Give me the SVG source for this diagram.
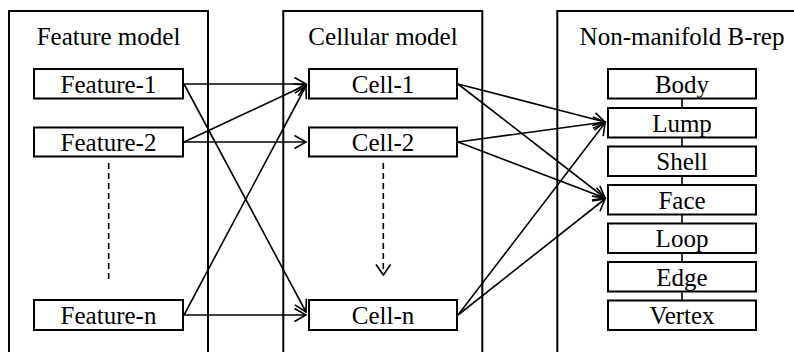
<svg xmlns="http://www.w3.org/2000/svg" width="794" height="352" viewBox="0 0 794 352">
  <style>
    .frame { fill: none; stroke: #000; stroke-width: 2; }
    .box { fill: #fff; stroke: #000; stroke-width: 2; }
    .t { font-family: "Liberation Serif", "Times New Roman", serif; font-size: 25px; fill: #000; text-anchor: middle; }
    .c { fill: none; stroke: #000; stroke-width: 1.6; marker-end: url(#arr); }
    .dash { fill: none; stroke: #000; stroke-width: 1.6; stroke-dasharray: 6 4; }
    .link { fill: none; stroke: #000; stroke-width: 1.6; }
  </style>
  <defs>
    <marker id="arr" markerUnits="userSpaceOnUse" markerWidth="16" markerHeight="16" refX="13" refY="8" orient="auto" viewBox="0 0 16 16">
      <path d="M1.5,1.5 L13,8 L1.5,14.5" fill="none" stroke="#000" stroke-width="1.6"/>
    </marker>
  </defs>
  <rect x="0" y="0" width="794" height="352" fill="#fff"/>

  <g id="frame-feature">
    <path class="frame" d="M9,353 V11 H208 V353"/>
    <text class="t" x="108.5" y="45">Feature model</text>
  </g>
  <g id="frame-cellular">
    <path class="frame" d="M283.3,353 V11 H482.3 V353"/>
    <text class="t" x="383" y="45">Cellular model</text>
  </g>
  <g id="frame-brep">
    <path class="frame" d="M557.3,353 V11 H796"/>
    <text class="t" x="682" y="45">Non-manifold B-rep</text>
  </g>

  <g id="connectors">
    <line class="c" x1="184" y1="84" x2="306" y2="84"/>
    <line class="c" x1="184" y1="84" x2="306" y2="312"/>
    <line class="c" x1="184" y1="142" x2="306" y2="85"/>
    <line class="c" x1="184" y1="142" x2="306" y2="142"/>
    <line class="c" x1="184" y1="315" x2="306" y2="86"/>
    <line class="c" x1="184" y1="315" x2="306" y2="315"/>

    <line class="c" x1="458" y1="84" x2="605" y2="122"/>
    <line class="c" x1="458" y1="84" x2="605" y2="198"/>
    <line class="c" x1="458" y1="142" x2="605" y2="122"/>
    <line class="c" x1="458" y1="142" x2="605" y2="198"/>
    <line class="c" x1="458" y1="315" x2="605" y2="123"/>
    <line class="c" x1="458" y1="315" x2="605" y2="199"/>

    <line class="dash" x1="108.7" y1="163" x2="108.7" y2="280"/>
    <line class="dash" x1="383.3" y1="163" x2="383.3" y2="274"/>
    <path class="link" d="M376,264.5 L383.3,275 L390.6,264.5"/>

    <line class="link" x1="682" y1="99" x2="682" y2="108"/>
    <line class="link" x1="682" y1="137.5" x2="682" y2="146.5"/>
    <line class="link" x1="682" y1="176" x2="682" y2="185"/>
    <line class="link" x1="682" y1="214.5" x2="682" y2="223.5"/>
    <line class="link" x1="682" y1="253" x2="682" y2="262"/>
    <line class="link" x1="682" y1="291.5" x2="682" y2="300.5"/>
  </g>

  <g id="feature-1"><rect class="box" x="34" y="69" width="149" height="29.5"/><text class="t" x="108.5" y="92.7">Feature-1</text></g>
  <g id="feature-2"><rect class="box" x="34" y="127.5" width="149" height="29"/><text class="t" x="108.5" y="151">Feature-2</text></g>
  <g id="feature-n"><rect class="box" x="34" y="300" width="149" height="30"/><text class="t" x="108.5" y="324">Feature-n</text></g>

  <g id="cell-1"><rect class="box" x="309" y="69" width="148" height="29.5"/><text class="t" x="383" y="92.7">Cell-1</text></g>
  <g id="cell-2"><rect class="box" x="309" y="127.5" width="148" height="29"/><text class="t" x="383" y="151">Cell-2</text></g>
  <g id="cell-n"><rect class="box" x="309" y="300" width="148" height="30"/><text class="t" x="383" y="324">Cell-n</text></g>

  <g id="body"><rect class="box" x="608" y="69" width="148" height="29.5"/><text class="t" x="682" y="92.7">Body</text></g>
  <g id="lump"><rect class="box" x="608" y="108" width="148" height="29.5"/><text class="t" x="682" y="131.5">Lump</text></g>
  <g id="shell"><rect class="box" x="608" y="146.5" width="148" height="29.5"/><text class="t" x="682" y="170">Shell</text></g>
  <g id="face"><rect class="box" x="608" y="185" width="148" height="29.5"/><text class="t" x="682" y="208.5">Face</text></g>
  <g id="loop"><rect class="box" x="608" y="223.5" width="148" height="29.5"/><text class="t" x="682" y="247">Loop</text></g>
  <g id="edge"><rect class="box" x="608" y="262" width="148" height="29.5"/><text class="t" x="682" y="285.5">Edge</text></g>
  <g id="vertex"><rect class="box" x="608" y="300.5" width="148" height="29.5"/><text class="t" x="682" y="324">Vertex</text></g>
</svg>
